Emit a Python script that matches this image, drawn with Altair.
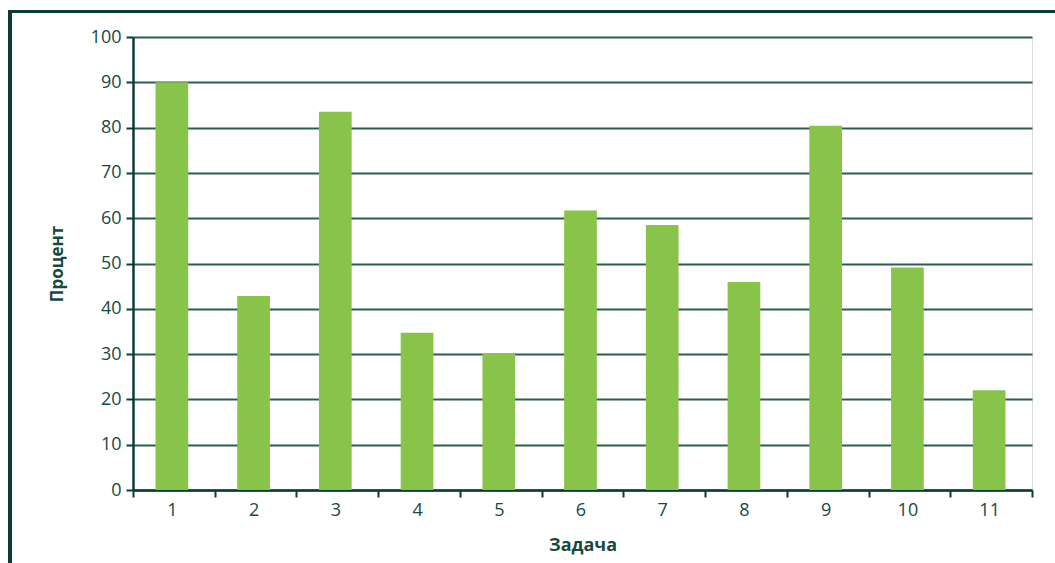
import altair as alt
import pandas as pd

# Share of correct answers per task
tasks = ["1", "2", "3", "4", "5", "6", "7", "8", "9", "10", "11"]
percent = [90.0, 42.8, 83.5, 34.7, 30.1, 61.7, 58.5, 45.9, 80.4, 49.1, 22.0]
y_ticks = [0, 10, 20, 30, 40, 50, 60, 70, 80, 90, 100]

df = pd.DataFrame({"task": tasks, "percent": percent})

DARK = "#0b3d36"
TEXT = "#154a43"
GRID = "#2c5c56"
BAR = "#89c44a"
FONT = "Open Sans"

W, H = 899, 453
PAD = {"left": 133, "top": 37, "right": 23, "bottom": 73}

bars = alt.Chart(df).mark_bar(color=BAR, width=alt.RelativeBandSize(0.4), xOffset=-2).encode(
    x=alt.X(
        "task:N",
        sort=tasks,
        title="Задача",
        scale=alt.Scale(paddingInner=0, paddingOuter=0),
        axis=alt.Axis(
            labelAngle=0,
            tickBand="extent",
            tickSize=7,
            tickWidth=2,
            tickColor=DARK,
            domainColor=DARK,
            domainWidth=2.5,
            labelFont=FONT,
            labelFontSize=18,
            labelColor=TEXT,
            labelPadding=4,
            labelOffset=-2,
            titleFont=FONT,
            titleFontSize=18,
            titleFontWeight="bold",
            titleColor=TEXT,
            titlePadding=17,
            grid=False,
        ),
    ),
    y=alt.Y(
        "percent:Q",
        title="Процент",
        scale=alt.Scale(domain=[0, 100], nice=False),
        axis=alt.Axis(
            values=y_ticks,
            tickSize=7,
            tickWidth=2,
            tickColor=DARK,
            domainColor=DARK,
            domainWidth=2.5,
            grid=True,
            gridColor=GRID,
            gridWidth=1.8,
            labelFont=FONT,
            labelFontSize=18,
            labelColor=TEXT,
            labelPadding=5,
            titleFont=FONT,
            titleFontSize=17,
            titleFontWeight="bold",
            titleColor=TEXT,
            titlePadding=24,
        ),
    ),
)

# Frame: a line along the top and down the left side of the figure
frame_left = alt.Chart(df).mark_rule(color=DARK, strokeWidth=3, clip=False).encode(
    x=alt.value(-123), y=alt.value(-25.5), y2=alt.value(H + PAD["bottom"] + 5)
)
frame_top = alt.Chart(df).mark_rule(color=DARK, strokeWidth=3, clip=False).encode(
    x=alt.value(-124.5), x2=alt.value(W + PAD["right"] + 5), y=alt.value(-25.5)
)

chart = (
    alt.layer(bars, frame_left, frame_top)
    .properties(width=W, height=H, padding=PAD, autosize=alt.AutoSizeParams(type="none"))
    .configure_view(stroke=None)
    .configure(background="white")
)

chart.save("out.html", embed_options={"renderer": "svg", "actions": False})
